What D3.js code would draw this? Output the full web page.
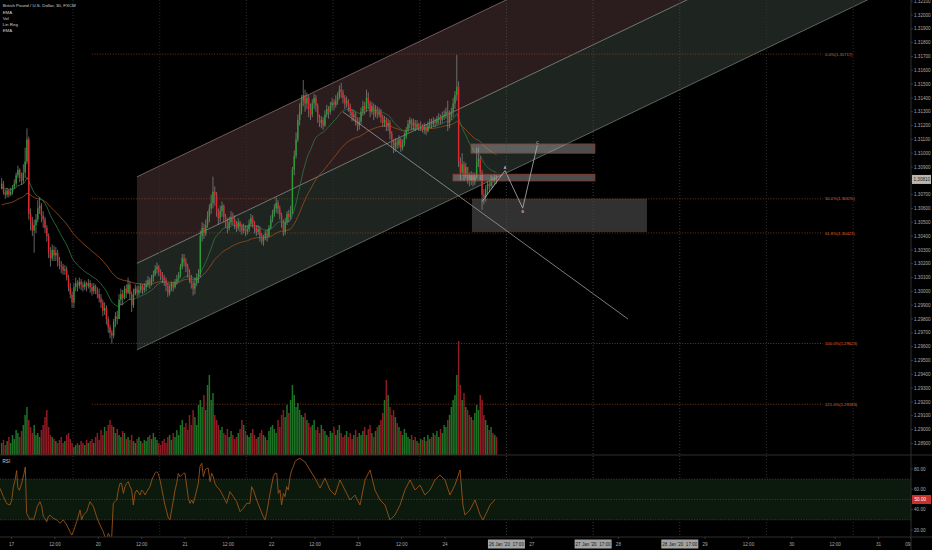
<!DOCTYPE html>
<html><head><meta charset="utf-8">
<script src="https://cdn.jsdelivr.net/npm/d3@7/dist/d3.min.js"></script>
<style>
html,body{margin:0;padding:0;background:#000;}
svg{display:block;}
text{font-family:"Liberation Sans",Arial,sans-serif;}
</style></head><body>
<svg id="c" width="932" height="550"></svg>
<script>
// ---------------- DATA ----------------
// bar index 0 = session open Sun 19 Jan 2020 17:00 (30-min bars, 48 per session)
const firstBar = -40;
const firstOpen = 1.3074;
const closes = [
1.3078,1.3072,1.3070,1.3073,1.3070,1.3072,1.3075,1.3078,1.3084,1.3088,
1.3082,1.3080,1.3086,1.3094,1.3110,1.3056,1.3050,1.3044,1.3048,1.3052,
1.3060,1.3062,1.3055,1.3052,1.3046,1.3040,1.3028,1.3024,1.3030,1.3026,
1.3028,1.3022,1.3019,1.3018,1.3015,1.3016,1.3010,1.3003,1.2998,1.2992,
1.3003,1.3006,1.3004,1.3007,1.3005,1.3003,1.3006,1.3004,1.3006,1.3003,
1.3000,1.3004,1.3001,1.2998,1.2995,1.2992,1.2986,1.2988,1.2980,1.2974,
1.2970,1.2968,1.2978,1.2982,1.2980,1.2994,1.2998,1.2995,1.3002,1.2999,
1.3005,1.2998,1.2990,1.2998,1.3002,1.2999,1.3001,1.3004,1.3001,1.3003,
1.3005,1.3008,1.3006,1.3010,1.3012,1.3016,1.3018,1.3014,1.3012,1.3010,
1.3008,1.3004,1.2999,1.3002,1.3005,1.3003,1.3007,1.3009,1.3012,1.3018,
1.3024,1.3021,1.3018,1.3014,1.3010,1.3006,1.3002,1.3006,1.3010,1.3013,
1.3040,1.3046,1.3042,1.3048,1.3054,1.3060,1.3064,1.3072,1.3070,1.3058,
1.3053,1.3058,1.3062,1.3054,1.3050,1.3046,1.3050,1.3054,1.3052,1.3049,
1.3046,1.3050,1.3047,1.3044,1.3046,1.3043,1.3045,1.3049,1.3053,1.3050,
1.3046,1.3043,1.3045,1.3040,1.3036,1.3039,1.3042,1.3040,1.3046,1.3052,
1.3056,1.3060,1.3064,1.3060,1.3055,1.3050,1.3043,1.3050,1.3056,1.3054,
1.3058,1.3088,1.3098,1.3110,1.3124,1.3130,1.3138,1.3142,1.3136,1.3140,
1.3132,1.3128,1.3136,1.3140,1.3134,1.3126,1.3122,1.3124,1.3120,1.3128,
1.3132,1.3130,1.3134,1.3137,1.3135,1.3138,1.3141,1.3146,1.3144,1.3140,
1.3136,1.3138,1.3134,1.3130,1.3126,1.3128,1.3124,1.3120,1.3123,1.3130,
1.3134,1.3132,1.3140,1.3136,1.3130,1.3134,1.3128,1.3132,1.3128,1.3130,
1.3126,1.3122,1.3124,1.3120,1.3122,1.3114,1.3108,1.3104,1.3108,1.3106,
1.3110,1.3104,1.3107,1.3112,1.3117,1.3121,1.3124,1.3120,1.3122,1.3119,
1.3121,1.3118,1.3120,1.3117,1.3119,1.3116,1.3120,1.3122,1.3121,1.3123,
1.3122,1.3124,1.3126,1.3124,1.3127,1.3128,1.3130,1.3122,1.3127,1.3130,
1.3136,1.3142,1.3148,1.3094,1.3086,1.3092,1.3084,1.3090,1.3082,1.3080,
1.3084,1.3079,1.3083,1.3094,1.3096,1.3086,1.3070,1.3068,1.3074,1.3078,
1.3076,1.3081,1.3079,1.3082,1.3081];
const highs = [
1.3082,1.3080,1.3074,1.3075,1.3074,1.3075,1.3077,1.3081,1.3086,1.3091,
1.3089,1.3086,1.3092,1.3104,1.3118,1.3112,1.3060,1.3054,1.3052,1.3056,
1.3066,1.3068,1.3064,1.3058,1.3054,1.3048,1.3042,1.3032,1.3034,1.3033,
1.3032,1.3030,1.3025,1.3022,1.3020,1.3019,1.3018,1.3012,1.3006,1.3000,
1.3006,1.3010,1.3008,1.3010,1.3009,1.3007,1.3008,1.3007,1.3009,1.3008,
1.3006,1.3006,1.3005,1.3003,1.3002,1.2998,1.2994,1.2992,1.2990,1.2982,
1.2976,1.2972,1.2980,1.2985,1.2986,1.2998,1.3002,1.3001,1.3004,1.3005,
1.3010,1.3007,1.3000,1.3002,1.3005,1.3004,1.3004,1.3006,1.3005,1.3006,
1.3008,1.3011,1.3010,1.3012,1.3015,1.3019,1.3021,1.3019,1.3016,1.3014,
1.3012,1.3010,1.3006,1.3005,1.3007,1.3007,1.3009,1.3012,1.3014,1.3020,
1.3027,1.3027,1.3024,1.3020,1.3016,1.3012,1.3008,1.3010,1.3013,1.3016,
1.3044,1.3050,1.3049,1.3052,1.3058,1.3063,1.3070,1.3083,1.3076,1.3072,
1.3060,1.3062,1.3065,1.3063,1.3056,1.3053,1.3054,1.3058,1.3057,1.3055,
1.3051,1.3053,1.3051,1.3049,1.3049,1.3048,1.3048,1.3052,1.3056,1.3055,
1.3051,1.3048,1.3048,1.3047,1.3042,1.3041,1.3044,1.3045,1.3048,1.3055,
1.3059,1.3063,1.3068,1.3066,1.3062,1.3057,1.3052,1.3053,1.3058,1.3059,
1.3062,1.3090,1.3102,1.3115,1.3128,1.3136,1.3142,1.3153,1.3146,1.3144,
1.3142,1.3136,1.3139,1.3143,1.3142,1.3136,1.3128,1.3127,1.3126,1.3131,
1.3135,1.3134,1.3137,1.3140,1.3139,1.3142,1.3144,1.3149,1.3151,1.3146,
1.3142,1.3141,1.3139,1.3136,1.3132,1.3131,1.3130,1.3126,1.3126,1.3133,
1.3138,1.3137,1.3146,1.3144,1.3138,1.3137,1.3136,1.3135,1.3134,1.3133,
1.3132,1.3128,1.3127,1.3126,1.3125,1.3124,1.3116,1.3110,1.3111,1.3110,
1.3113,1.3111,1.3110,1.3115,1.3119,1.3124,1.3126,1.3125,1.3125,1.3124,
1.3124,1.3122,1.3123,1.3121,1.3122,1.3121,1.3123,1.3125,1.3125,1.3126,
1.3125,1.3127,1.3129,1.3128,1.3130,1.3131,1.3133,1.3138,1.3131,1.3133,
1.3140,1.3145,1.3171,1.3152,1.3097,1.3100,1.3094,1.3093,1.3090,1.3086,
1.3087,1.3086,1.3086,1.3104,1.3104,1.3098,1.3088,1.3074,1.3077,1.3080,
1.3080,1.3084,1.3083,1.3085,1.3084];
const lows = [
1.3074,1.3070,1.3067,1.3068,1.3068,1.3069,1.3070,1.3074,1.3076,1.3082,
1.3079,1.3077,1.3078,1.3082,1.3092,1.3052,1.3044,1.3040,1.3028,1.3042,
1.3050,1.3056,1.3050,1.3046,1.3042,1.3036,1.3024,1.3018,1.3022,1.3022,
1.3022,1.3018,1.3016,1.3013,1.3012,1.3012,1.3008,1.3000,1.2995,1.2988,
1.2988,1.3000,1.3000,1.3002,1.3001,1.3000,1.3001,1.3000,1.3002,1.2999,
1.2997,1.2998,1.2998,1.2995,1.2992,1.2988,1.2982,1.2983,1.2976,1.2970,
1.2966,1.29623,1.2966,1.2974,1.2976,1.2980,1.2990,1.2990,1.2994,1.2995,
1.2998,1.2994,1.2985,1.2988,1.2997,1.2996,1.2997,1.2999,1.2998,1.2999,
1.3000,1.3003,1.3002,1.3004,1.3007,1.3011,1.3013,1.3011,1.3008,1.3006,
1.3004,1.3000,1.2996,1.2997,1.3000,1.3000,1.3002,1.3005,1.3007,1.3010,
1.3016,1.3018,1.3014,1.3010,1.3006,1.3002,1.2997,1.2998,1.3004,1.3006,
1.3010,1.3036,1.3038,1.3040,1.3046,1.3050,1.3056,1.3060,1.3062,1.3054,
1.3048,1.3050,1.3054,1.3050,1.3046,1.3042,1.3044,1.3048,1.3048,1.3045,
1.3043,1.3044,1.3043,1.3041,1.3042,1.3040,1.3041,1.3043,1.3047,1.3046,
1.3042,1.3040,1.3041,1.3036,1.3034,1.3033,1.3037,1.3036,1.3039,1.3045,
1.3050,1.3054,1.3057,1.3056,1.3052,1.3046,1.3040,1.3041,1.3048,1.3050,
1.3052,1.3056,1.3084,1.3096,1.3108,1.3120,1.3128,1.3134,1.3130,1.3132,
1.3126,1.3124,1.3126,1.3132,1.3130,1.3122,1.3119,1.3118,1.3117,1.3119,
1.3126,1.3125,1.3128,1.3131,1.3131,1.3133,1.3135,1.3139,1.3140,1.3136,
1.3132,1.3133,1.3130,1.3127,1.3123,1.3123,1.3120,1.3116,1.3117,1.3121,
1.3127,1.3128,1.3130,1.3132,1.3126,1.3128,1.3124,1.3126,1.3125,1.3126,
1.3122,1.3119,1.3119,1.3116,1.3116,1.3110,1.3104,1.3100,1.3101,1.3103,
1.3104,1.3101,1.3102,1.3105,1.3110,1.3115,1.3118,1.3117,1.3117,1.3116,
1.3117,1.3116,1.3116,1.3115,1.3114,1.3113,1.3115,1.3118,1.3118,1.3119,
1.3119,1.3120,1.3121,1.3121,1.3122,1.3124,1.3125,1.3116,1.3118,1.3124,
1.3126,1.3132,1.3138,1.3090,1.3080,1.3084,1.3080,1.3082,1.3078,1.3076,
1.3077,1.3076,1.3077,1.3082,1.3090,1.3080,1.3059,1.3063,1.3065,1.3070,
1.3072,1.3074,1.3075,1.3077,1.3078];
const volumes = [
12,15,10,14,18,12,20,16,25,22,
18,24,30,40,48,35,28,22,30,20,
22,18,25,30,38,45,28,20,18,16,
14,12,15,18,12,14,20,22,16,12,
8,10,12,10,14,12,10,15,12,14,
16,12,18,22,15,25,20,28,24,30,
35,30,28,22,26,20,18,24,22,16,
18,15,20,14,12,16,18,14,12,15,
14,18,20,16,22,18,15,12,10,14,
16,12,18,20,15,22,18,25,20,30,
35,28,32,25,40,30,45,38,30,50,
55,48,60,45,70,80,55,62,40,35,
30,25,28,22,20,26,18,24,20,16,
18,22,26,35,30,24,20,18,22,26,
20,16,18,22,25,20,18,15,24,28,
30,26,22,35,28,40,45,38,50,42,
55,70,60,48,52,45,40,38,42,35,
32,28,30,35,25,28,22,30,26,24,
20,18,24,22,28,20,25,30,22,18,
20,24,18,22,16,20,25,18,22,20,
24,28,20,26,30,22,18,24,28,30,
35,42,55,75,60,48,40,45,38,32,
28,24,20,26,22,18,16,20,15,18,
14,12,16,15,18,14,20,16,18,22,
20,24,18,26,22,30,28,35,40,48,
55,60,80,114,70,55,62,48,45,40,
38,35,42,50,45,60,55,40,35,30,
25,28,22,20,18];
const emaFastLen = 20, emaSlowLen = 50;
const emaFastSeed = 1.3075, emaSlowSeed = 1.3062;
const rsiBars = [
-40.4,-38.6,-36.7,-34.9,-33.9,-33.0,-32.1,-31.2,-30.6,-29.7,
-28.4,-27.1,-26.4,-25.7,-24.7,-23.8,-22.9,-21.9,-21.0,-19.8,
-18.3,-17.3,-16.4,-15.5,-14.6,-13.7,-12.7,-11.8,-10.9,-9.0,
-7.2,-5.4,-3.5,-1.7,-0.7,0.2,2.0,3.9,4.8,5.7,
7.6,8.5,9.4,11.3,13.1,14.9,16.8,17.7,18.6,19.6,
20.5,21.4,22.3,23.3,24.2,25.1,26.0,26.9,27.9,28.8,
29.7,30.6,31.6,32.5,33.4,34.3,35.3,37.1,38.0,38.9,
39.9,40.8,42.6,43.6,44.5,45.4,46.3,47.2,48.2,49.1,
50.0,50.9,51.9,52.8,53.7,54.6,55.6,56.5,57.4,58.3,
59.3,60.2,61.1,62.0,63.0,63.9,64.8,65.7,66.6,67.6,
68.5,69.4,70.3,71.3,72.2,73.1,74.0,74.9,75.9,76.8,
77.7,78.6,79.6,81.4,82.3,83.3,85.1,86.9,88.8,90.6,
92.5,94.3,96.2,98.0,98.9,99.9,101.7,103.5,105.4,106.3,
107.2,109.1,110.9,111.8,112.8,113.7,114.6,115.5,116.5,117.4,
118.3,119.2,120.2,121.1,122.0,122.9,123.8,125.7,
128.5,131.2,134,136.8,139.5,142.3,145.1,147.8,150.6,153.4,
156.1,158.9,161.7,164.5,167.2,170,172.8,175.5,178.3,181.1,
183.8,186.6,189.4,192.1,194.9,197.7,200.4,203.2,206,208.7,
211.5,214.3,215.9,217,219.8,222.6,225.4,227,229.2,230.9,
233.7];
const rsiValues = [
61,53,46,44.6,49.5,62.6,69,78.4,62,59,
66,75.7,82,36.4,33,30,31.5,30,34.7,43,
47.9,43,33,31.5,28,33,34.7,33,31.5,30,
26.6,30,25,18.3,15,18.3,28,39.7,30,34.7,
38,43,47.9,43,33,25,18.3,12.8,11.8,16.7,
12.8,11.8,46.2,47.9,49.5,59.3,65.9,65.9,56,62.6,
65.9,67.5,62.6,59.3,44.6,56,59.3,54.4,59.3,57.7,
54.4,57.7,62.6,69,72.5,75.7,77.4,75.7,69,61,
52.8,44.6,38,31.5,30,39.7,49.5,59.3,65.9,75.7,
72.5,74.1,75.7,75.7,62.6,51.1,46.2,49.5,46.2,52.8,
59.3,65.9,82.3,85.6,72.5,79,80.7,80.7,67.5,75.7,
72.5,65.9,62.6,59.3,56,52.8,46.2,57.7,52.8,47.9,
38,41.3,46.2,46.2,62.6,59.3,49.5,41.3,33,30,
36.4,56,72.5,75.7,75.7,56,59.3,44.6,56,52.8,
62.6,59.3,72.5,79,82.3,87.2,88.9,90.5,
86.9,79,71,61.3,71,59.3,54.4,69.2,59.3,49.5,
54.4,44.6,69.2,79,59.3,49.5,44.6,29.8,34.8,44.6,
59.3,69.2,59.3,64.3,54.4,59.3,69.2,74.1,69.2,54.4,
64.3,79,44.6,34.8,39.7,49.5,34.8,29.8,37.7,44.6,
50];
const rsiLevels = [70, 50, 30];
const rsiTicks = [80, 60, 40, 20];
const priceTicks = [1.321,1.320,1.319,1.318,1.317,1.316,1.315,1.314,1.313,1.312,1.311,1.310,1.309,1.308,1.307,1.306,1.305,1.304,1.303,1.302,1.301,1.300,1.299,1.298,1.297,1.296,1.295,1.294,1.293,1.292,1.291,1.290,1.289];
const timeTickBars = [-34,-10,14,38,62,86,110,134,158,182,206,254,302,350,374,398,422,446,464];
const timeTickLabels = ["17","12:00","20","12:00","21","12:00","22","12:00","23","12:00","24","27","28","29","12:00","30","12:00","31","09:00"];
const sessionBars = [0,48,96,144,192,240,288,336,384,432];
const markedBars = [240,288,336];
const markedLabels = ["26 Jan '20  17:00","27 Jan '20  17:00","28 Jan '20  17:00"];
const legendLines = ["British Pound / U.S. Dollar, 30, FXCM","EMA","Vol","Lin Reg","EMA"];
// Fibonacci retracement
const fibHigh = 1.31717, fibLow = 1.29623;
const fibLevels = [0, 50, 61.8, 100, 121];
const fibBars = [10.5, 415.3];
// Linear regression channel
const linRegBars = [35.4, 464];
const linRegMid = [1.30203, 1.32886];
const linRegDev = 0.00626;
// drawings
const trendBars = [149.5, 307.3], trendPrices = [1.31299, 1.2980];
const boxBars = [[220.9,317.8],[220.4,289],[210.4,289]];
const boxPrices = [[1.3067,1.3043],[1.31067,1.31000],[1.30848,1.30799]];
const waveNames = ["", "A", "B", "C"];
const waveBars = [226.5, 239.2, 249.0, 257.1];
const wavePrices = [1.3065, 1.30874, 1.30602, 1.31058];

// ---------------- DRAW ----------------
const W = 932, H = 550, plotR = 911, mainB = 455, rsiB = 537;
const svg = d3.select('#c');
const x = d3.scaleLinear().domain([0, 240]).range([73, 506.44]);
const y = d3.scaleLinear().domain([1.289, 1.32]).range([443.4, 15]);
const yR = d3.scaleLinear().domain([20, 80]).range([530, 469]);
const yV = d3.scaleLinear().domain([0, 120]).range([mainB, mainB - 120]);
const FS = 4.6;

svg.append('rect').attr('width', W).attr('height', H).attr('fill', '#000');
const defs = svg.append('defs');
defs.append('clipPath').attr('id', 'cm').append('rect').attr('x', 0).attr('y', 0).attr('width', plotR).attr('height', mainB);
defs.append('clipPath').attr('id', 'cr').append('rect').attr('x', 0).attr('y', mainB).attr('width', plotR).attr('height', rsiB - mainB);
defs.append('clipPath').attr('id', 'cx').append('rect').attr('x', 0).attr('y', rsiB).attr('width', plotR).attr('height', H - rsiB);

const gMain = svg.append('g').attr('clip-path', 'url(#cm)');

// regression channel
const regX = linRegBars.map(x);
const upper = linRegMid.map(m => m + linRegDev), lower = linRegMid.map(m => m - linRegDev);
const band = (a, b) => [[regX[0], y(a[0])], [regX[1], y(a[1])], [regX[1], y(b[1])], [regX[0], y(b[0])]].join(' ');
gMain.append('polygon').attr('points', band(upper, linRegMid)).attr('fill', '#2b1d1d');
gMain.append('polygon').attr('points', band(linRegMid, lower)).attr('fill', '#1e2420');
[[upper, '#8a6e6e'], [linRegMid, '#87918a'], [lower, '#6e7a72']].forEach(([v, col]) => {
  gMain.append('line').attr('x1', regX[0]).attr('x2', regX[1]).attr('y1', y(v[0])).attr('y2', y(v[1]))
    .attr('stroke', col).attr('stroke-width', 0.8);
});

// vertical grid (session boundaries)
svg.append('g').selectAll('line').data(sessionBars).join('line')
  .attr('x1', d => x(d)).attr('x2', d => x(d)).attr('y1', 0).attr('y2', rsiB)
  .attr('stroke', d => markedBars.includes(d) ? '#4a4a4a' : '#333').attr('stroke-width', 0.8).attr('stroke-dasharray', '1,2');

// fib lines
const fibPrice = l => fibHigh - l / 100 * (fibHigh - fibLow);
fibLevels.forEach(l => {
  const p = fibPrice(l);
  gMain.append('line').attr('x1', x(fibBars[0])).attr('x2', x(fibBars[1])).attr('y1', y(p)).attr('y2', y(p))
    .attr('stroke', '#8a4416').attr('stroke-width', 0.8).attr('stroke-dasharray', '1,1.6');
  gMain.append('text').attr('x', x(fibBars[1]) + 2).attr('y', y(p) + 1.6).attr('font-size', FS - 0.4)
    .attr('fill', '#e06a2c').text(l.toFixed(1) + '%(' + p.toFixed(5) + ')');
});

// bars
const bars = closes.map((c, i) => ({ t: firstBar + i, o: i ? closes[i - 1] : firstOpen, h: highs[i], l: lows[i], c, v: volumes[i] }));

// volume
gMain.append('g').selectAll('rect').data(bars).join('rect')
  .attr('x', d => x(d.t + 0.5) - 0.75).attr('width', 1.5)
  .attr('y', d => yV(d.v)).attr('height', d => mainB - yV(d.v))
  .attr('fill', d => d.c >= d.o ? '#23862b' : '#a8202a').attr('opacity', 0.85);

// EMAs
function ema(vals, n, seed) { const a = 2 / (n + 1); let e = seed; return vals.map(v => (e = e + a * (v - e))); }
const emaF = ema(closes, emaFastLen, emaFastSeed), emaS = ema(closes, emaSlowLen, emaSlowSeed);
const ln = d3.line().x((d, i) => x(firstBar + i + 0.5)).y(d => y(d));
gMain.append('path').attr('d', ln(emaS)).attr('fill', 'none').attr('stroke', '#8e4a1c').attr('stroke-width', 0.9);
gMain.append('path').attr('d', ln(emaF)).attr('fill', 'none').attr('stroke', '#2a6e3c').attr('stroke-width', 0.9);

// candles
const gc = gMain.append('g');
gc.selectAll('line').data(bars).join('line')
  .attr('x1', d => x(d.t + 0.5)).attr('x2', d => x(d.t + 0.5))
  .attr('y1', d => y(Math.max(d.h, d.o, d.c))).attr('y2', d => y(Math.min(d.l, d.o, d.c)))
  .attr('stroke', '#8d8d8d').attr('stroke-width', 0.7);
gc.selectAll('rect').data(bars).join('rect')
  .attr('x', d => x(d.t + 0.5) - 0.7).attr('width', 1.4)
  .attr('y', d => y(Math.max(d.o, d.c))).attr('height', d => Math.max(0.8, Math.abs(y(d.o) - y(d.c))))
  .attr('fill', d => d.c >= d.o ? '#2c9c34' : '#e3262d');

// boxes
boxBars.forEach((b, i) => {
  const p = boxPrices[i];
  gMain.append('rect').attr('x', x(b[0])).attr('width', x(b[1]) - x(b[0]))
    .attr('y', y(p[0])).attr('height', y(p[1]) - y(p[0]))
    .attr('fill', i === 0 ? 'rgba(150,150,150,0.33)' : 'rgba(170,170,170,0.45)')
    .attr('stroke', i === 0 ? 'none' : '#8b3a2a').attr('stroke-width', 0.8);
});

// trend line
gMain.append('line').attr('x1', x(trendBars[0])).attr('x2', x(trendBars[1]))
  .attr('y1', y(trendPrices[0])).attr('y2', y(trendPrices[1])).attr('stroke', '#9a9a9a').attr('stroke-width', 0.8);

// wave path
const wl = d3.line().x((d, i) => x(waveBars[i])).y(d => y(d));
gMain.append('path').attr('d', wl(wavePrices)).attr('fill', 'none').attr('stroke', '#b4b4b4').attr('stroke-width', 0.8);
waveNames.forEach((n, i) => {
  if (!n) return;
  gMain.append('text').attr('x', x(waveBars[i])).attr('y', y(wavePrices[i]) + (n === 'B' ? 5 : -1.5))
    .attr('text-anchor', 'middle').attr('font-size', 3.8).attr('fill', '#ddd').text(n);
});

// RSI pane
const gR = svg.append('g').attr('clip-path', 'url(#cr)');
gR.append('rect').attr('x', 0).attr('width', plotR).attr('y', yR(70)).attr('height', yR(30) - yR(70)).attr('fill', '#0b1a0c');
rsiLevels.forEach(l => gR.append('line').attr('x1', 0).attr('x2', plotR).attr('y1', yR(l)).attr('y2', yR(l))
  .attr('stroke', l === 50 ? '#6a4a2a' : '#555').attr('stroke-width', 0.7).attr('stroke-dasharray', '1,1.6'));
const rl = d3.line().x((d, i) => x(rsiBars[i])).y(d => yR(d));
gR.append('path').attr('d', rl(rsiValues)).attr('fill', 'none').attr('stroke', '#9a5218').attr('stroke-width', 0.9);
svg.append('text').attr('x', 2.5).attr('y', 462.5).attr('font-size', FS).attr('fill', '#ccc').text('RSI');

// separators
svg.append('line').attr('x1', 0).attr('x2', W).attr('y1', mainB).attr('y2', mainB).attr('stroke', '#2e2e2e').attr('stroke-width', 1);
svg.append('line').attr('x1', 0).attr('x2', W).attr('y1', rsiB).attr('y2', rsiB).attr('stroke', '#2e2e2e').attr('stroke-width', 1);
svg.append('line').attr('x1', plotR).attr('x2', plotR).attr('y1', 0).attr('y2', H).attr('stroke', '#2e2e2e').attr('stroke-width', 1);

// right price axis
const gA = svg.append('g');
priceTicks.forEach(p => {
  gA.append('line').attr('x1', plotR).attr('x2', plotR + 2).attr('y1', y(p)).attr('y2', y(p)).attr('stroke', '#555').attr('stroke-width', 0.6);
  gA.append('text').attr('x', plotR + 3).attr('y', y(p) + 1.6).attr('font-size', FS).attr('fill', '#a8a8a8').text(p.toFixed(5));
});
rsiTicks.forEach(v => {
  gA.append('line').attr('x1', plotR).attr('x2', plotR + 2).attr('y1', yR(v)).attr('y2', yR(v)).attr('stroke', '#555').attr('stroke-width', 0.6);
  gA.append('text').attr('x', plotR + 3).attr('y', yR(v) + 1.6).attr('font-size', FS).attr('fill', '#a8a8a8').text(v.toFixed(2));
});
// last price label
const lastC = closes[closes.length - 1];
gA.append('rect').attr('x', plotR + 1).attr('y', y(lastC) - 4.5).attr('width', 19).attr('height', 9).attr('fill', '#b9b6ac');
gA.append('text').attr('x', plotR + 2.5).attr('y', y(lastC) + 1.6).attr('font-size', FS).attr('fill', '#222').text(lastC.toFixed(5));
// last RSI label
const lastR = rsiValues[rsiValues.length - 1];
gA.append('rect').attr('x', plotR + 1).attr('y', yR(lastR) - 4.5).attr('width', 19).attr('height', 9).attr('fill', '#c9302c');
gA.append('text').attr('x', plotR + 3.5).attr('y', yR(lastR) + 1.6).attr('font-size', FS).attr('fill', '#fff').text(lastR.toFixed(2));

// time axis
const gX = svg.append('g').attr('clip-path', 'url(#cx)');
timeTickBars.forEach((b, i) => {
  gX.append('line').attr('x1', x(b)).attr('x2', x(b)).attr('y1', rsiB).attr('y2', rsiB + 2).attr('stroke', '#555').attr('stroke-width', 0.6);
  gX.append('text').attr('x', x(b)).attr('y', 546).attr('text-anchor', 'middle').attr('font-size', FS).attr('fill', '#a8a8a8').text(timeTickLabels[i]);
});
markedBars.forEach((b, i) => {
  gX.append('rect').attr('x', x(b) - 18.5).attr('y', 539.5).attr('width', 37).attr('height', 9).attr('fill', '#a3a3a3');
  gX.append('text').attr('x', x(b)).attr('y', 545.8).attr('text-anchor', 'middle').attr('font-size', FS).attr('fill', '#1a1a1a').attr('xml:space', 'preserve').text(markedLabels[i]);
});

// legend
legendLines.forEach((t, i) => {
  svg.append('text').attr('x', 2.7).attr('y', [6.8, 13.5, 19.8, 25.8, 32.2][i]).attr('font-size', FS - 0.2).attr('fill', '#d0d0d0').text(t);
});
</script>
</body></html>
